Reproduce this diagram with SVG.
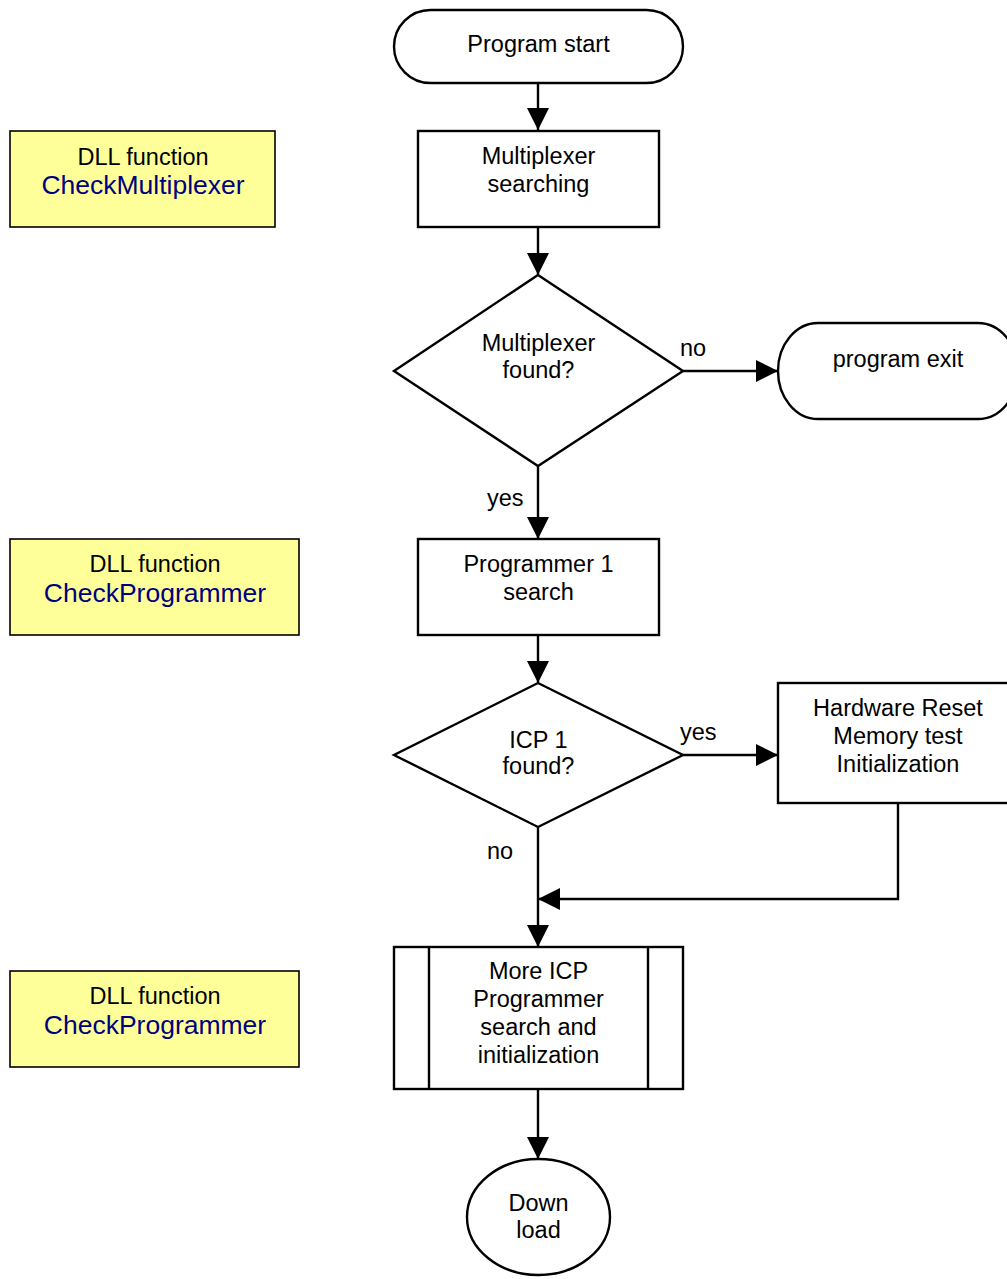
<svg xmlns="http://www.w3.org/2000/svg" width="1007" height="1279" viewBox="0 0 1007 1279">
<defs>
<style>
.s{fill:#fff;stroke:#000;stroke-width:2.4}
.n{fill:#ffff99;stroke:#000;stroke-width:1.6}
.t{font-family:"Liberation Sans",Arial,sans-serif;font-size:23.5px;fill:#000;text-anchor:middle}
.l{font-family:"Liberation Sans",Arial,sans-serif;font-size:23.5px;fill:#000}
.b{font-family:"Liberation Sans",Arial,sans-serif;font-size:26.5px;fill:#000080;text-anchor:middle}
.c{fill:none;stroke:#000;stroke-width:2.4}
</style>
<marker id="ah" markerUnits="userSpaceOnUse" markerWidth="22" markerHeight="22" refX="22" refY="11" orient="auto">
<path d="M0,0 L22,11 L0,22 Z" fill="#000"/>
</marker>
</defs>
<rect width="1007" height="1279" fill="#fff"/>

<g id="connectors">
<line class="c" x1="538" y1="83" x2="538" y2="130" marker-end="url(#ah)"/>
<line class="c" x1="538" y1="227" x2="538" y2="275" marker-end="url(#ah)"/>
<line class="c" x1="683" y1="371" x2="778" y2="371" marker-end="url(#ah)"/>
<line class="c" x1="538" y1="466" x2="538" y2="539" marker-end="url(#ah)"/>
<line class="c" x1="538" y1="635" x2="538" y2="683" marker-end="url(#ah)"/>
<line class="c" x1="683" y1="755" x2="778" y2="755" marker-end="url(#ah)"/>
<polyline class="c" points="898,803 898,899 538,899" marker-end="url(#ah)"/>
<line class="c" x1="538" y1="827" x2="538" y2="947" marker-end="url(#ah)"/>
<line class="c" x1="538" y1="1090" x2="538" y2="1159" marker-end="url(#ah)"/>
<text class="l" x="680" y="356">no</text>
<text class="l" x="487" y="506">yes</text>
<text class="l" x="680" y="740">yes</text>
<text class="l" x="487" y="859">no</text>
</g>

<g id="start">
<rect class="s" x="394" y="10" width="289" height="73" rx="36.5" ry="36.5"/>
<text class="t" x="538.5" y="52">Program start</text>
</g>

<g id="mux-search">
<rect class="s" x="418" y="131" width="241" height="96"/>
<text class="t" x="538.5" y="164">Multiplexer</text>
<text class="t" x="538.5" y="192">searching</text>
</g>

<g id="mux-found">
<polygon class="s" points="538,275 683,371 538,466 394,371"/>
<text class="t" x="538.5" y="351">Multiplexer</text>
<text class="t" x="538.5" y="378">found?</text>
</g>

<g id="exit">
<rect class="s" x="778" y="323" width="240" height="96" rx="40" ry="48"/>
<text class="t" x="898" y="367">program exit</text>
</g>

<g id="prog-search">
<rect class="s" x="418" y="539" width="241" height="96"/>
<text class="t" x="538.5" y="572">Programmer 1</text>
<text class="t" x="538.5" y="600">search</text>
</g>

<g id="icp-found">
<polygon class="s" points="538,683 683,755 538,827 394,755"/>
<text class="t" x="538.5" y="748">ICP 1</text>
<text class="t" x="538.5" y="774">found?</text>
</g>

<g id="hw-reset">
<rect class="s" x="778" y="683" width="240" height="120"/>
<text class="t" x="898" y="716">Hardware Reset</text>
<text class="t" x="898" y="744">Memory test</text>
<text class="t" x="898" y="772">Initialization</text>
</g>

<g id="more-icp">
<rect class="s" x="394" y="947" width="289" height="142"/>
<line class="c" x1="429" y1="947" x2="429" y2="1089"/>
<line class="c" x1="648" y1="947" x2="648" y2="1089"/>
<text class="t" x="538.5" y="979">More ICP</text>
<text class="t" x="538.5" y="1007">Programmer</text>
<text class="t" x="538.5" y="1035">search and</text>
<text class="t" x="538.5" y="1063">initialization</text>
</g>

<g id="download">
<ellipse class="s" cx="538.5" cy="1217" rx="71.5" ry="58"/>
<text class="t" x="538.5" y="1211">Down</text>
<text class="t" x="538.5" y="1238">load</text>
</g>

<g id="note-1">
<rect class="n" x="10" y="131" width="265" height="96"/>
<text class="t" x="143" y="165">DLL function</text>
<text class="b" x="143" y="194">CheckMultiplexer</text>
</g>

<g id="note-2">
<rect class="n" x="10" y="539" width="289" height="96"/>
<text class="t" x="155" y="572">DLL function</text>
<text class="b" x="155" y="602">CheckProgrammer</text>
</g>

<g id="note-3">
<rect class="n" x="10" y="971" width="289" height="96"/>
<text class="t" x="155" y="1004">DLL function</text>
<text class="b" x="155" y="1034">CheckProgrammer</text>
</g>
</svg>
